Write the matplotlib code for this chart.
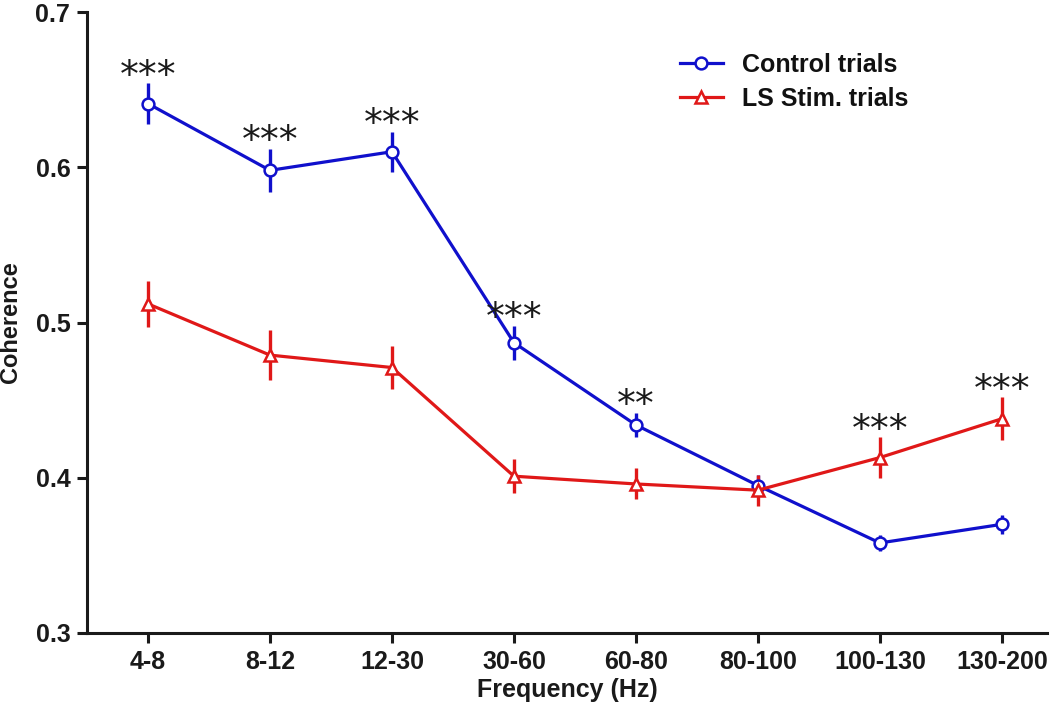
import matplotlib
matplotlib.use("Agg")
import matplotlib.pyplot as plt
import numpy as np

categories = ["4-8", "8-12", "12-30", "30-60", "60-80", "80-100", "100-130", "130-200"]
control_mean = [0.641, 0.598, 0.610, 0.487, 0.434, 0.395, 0.358, 0.370]
control_err = [0.013, 0.014, 0.013, 0.011, 0.008, 0.007, 0.005, 0.006]
ls_mean = [0.512, 0.479, 0.471, 0.401, 0.396, 0.392, 0.413, 0.438]
ls_err = [0.015, 0.016, 0.014, 0.011, 0.010, 0.010, 0.013, 0.014]
stars = ["***", "***", "***", "***", "**", "", "***", "***"]

plt.rcParams['font.family'] = ['Liberation Sans', 'DejaVu Sans']

fig = plt.figure(figsize=(10.5, 7.13), dpi=100)
ax = fig.add_axes([87/1050, 80/713, (1047-87)/1050, (633-12)/713])

blue = "#1010CC"
red = "#E01818"
x = np.arange(len(categories))

ax.errorbar(x, control_mean, yerr=control_err, fmt='none', ecolor=blue,
            elinewidth=2.4, capsize=0, zorder=2)
ax.errorbar(x, ls_mean, yerr=ls_err, fmt='none', ecolor=red,
            elinewidth=2.4, capsize=0, zorder=2)
ax.plot(x, control_mean, color=blue, lw=2.3, marker='o', ms=8.5, mfc='white',
        mec=blue, mew=1.8, label="Control trials", zorder=3)
ax.plot(x, ls_mean, color=red, lw=2.3, marker='^', ms=9, mfc='white',
        mec=red, mew=1.8, label="LS Stim. trials", zorder=3)

for i, s in enumerate(stars):
    if s:
        top = max(control_mean[i] + control_err[i], ls_mean[i] + ls_err[i])
        ax.annotate(s, (x[i], top), xytext=(0, 4.5), textcoords='offset points',
                    ha='center', va='center', fontsize=27,
                    family='DejaVu Sans', color='#1a1a1a')

ax.set_xlim(-0.5, 7.37)
ax.set_ylim(0.3, 0.7)
ax.set_yticks([0.3, 0.4, 0.5, 0.6, 0.7])
ax.set_yticklabels(["0.3", "0.4", "0.5", "0.6", "0.7"])
ax.set_xticks(x)
ax.set_xticklabels(categories)
for lab in ax.get_xticklabels() + ax.get_yticklabels():
    lab.set_fontweight('bold')
    lab.set_fontsize(18)
    lab.set_color('#1a1a1a')

ax.spines['top'].set_visible(False)
ax.spines['right'].set_visible(False)
for sp in ('left', 'bottom'):
    ax.spines[sp].set_linewidth(2.2)
    ax.spines[sp].set_color('#1a1a1a')
ax.tick_params(direction='out', length=7, width=2.2, color='#1a1a1a', pad=5)

ax.set_xlabel("Frequency (Hz)", fontsize=18, fontweight='bold', labelpad=3, color='#1a1a1a')
ax.set_ylabel("Coherence", fontsize=17, fontweight='bold', color='#1a1a1a')
ax.yaxis.set_label_coords(-65/960, 0.5)

leg = ax.legend(loc='center left', bbox_to_anchor=(583/960, 1 - 70/621), frameon=False,
                prop={'weight': 'bold', 'size': 18}, handlelength=1.7,
                labelspacing=0.4, handletextpad=0.76, borderaxespad=0)
for t in leg.get_texts():
    t.set_color('#111111')

fig.savefig("out.png", dpi=100)
